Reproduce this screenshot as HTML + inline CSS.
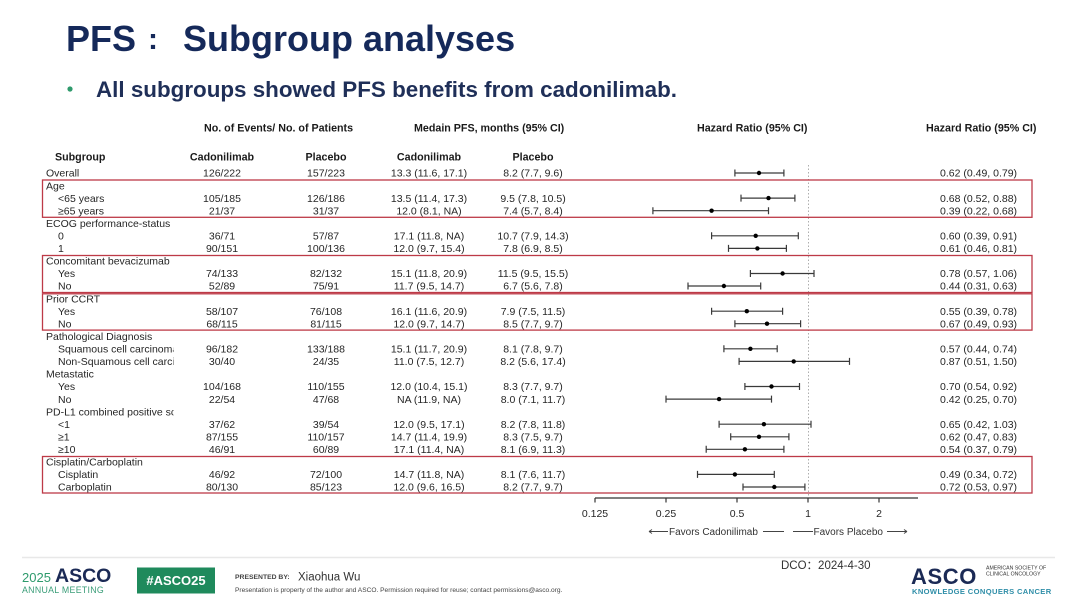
<!DOCTYPE html>
<html><head><meta charset="utf-8"><style>
html,body{margin:0;padding:0;background:#fff;}
svg{display:block;}
text{font-family:"Liberation Sans","Noto Sans CJK SC",sans-serif;}
.t{font-size:10.5px;fill:#262626;}
.h{font-size:10.7px;font-weight:bold;fill:#1a1a1a;}
.c{text-anchor:middle;}
</style></head><body>
<svg width="1080" height="608" viewBox="0 0 1080 608" xmlns="http://www.w3.org/2000/svg">
<rect width="1080" height="608" fill="#fff"/>
<defs><clipPath id="lc"><rect x="40" y="160" width="133.5" height="340"/></clipPath></defs>

<!-- Title -->
<g style="font-size:36px;font-weight:bold;fill:#15295a;">
<text x="66" y="51">PFS</text>
<text x="148" y="49" style="font-size:30px;">:</text>
<text x="183" y="51">Subgroup analyses</text>
</g>
<circle cx="70" cy="89" r="2.6" fill="#2f9a6c"/>
<text x="96" y="97" style="font-size:22.4px;font-weight:bold;fill:#1f2f58;">All subgroups showed PFS benefits from cadonilimab.</text>

<!-- Headers -->
<text class="h" x="204" y="131.5">No. of Events/  No. of Patients</text>
<text class="h" x="414" y="131.5">Medain PFS,  months (95% CI)</text>
<text class="h" x="697" y="131.5">Hazard Ratio (95% CI)</text>
<text class="h" x="926" y="131.5">Hazard Ratio (95% CI)</text>
<text class="h" x="55" y="160.5">Subgroup</text>
<text class="h c" x="222" y="160.5">Cadonilimab</text>
<text class="h c" x="326" y="160.5">Placebo</text>
<text class="h c" x="429" y="160.5">Cadonilimab</text>
<text class="h c" x="533" y="160.5">Placebo</text>

<!-- Row labels -->
<g class="t" clip-path="url(#lc)">
<text x="46" y="176.7">Overall</text>
<text x="46" y="189.3">Age</text>
<text x="58" y="201.8">&lt;65 years</text>
<text x="58" y="214.4">≥65 years</text>
<text x="46" y="226.9">ECOG performance-status</text>
<text x="58" y="239.5">0</text>
<text x="58" y="252.1">1</text>
<text x="46" y="264.6">Concomitant bevacizumab</text>
<text x="58" y="277.2">Yes</text>
<text x="58" y="289.7">No</text>
<text x="46" y="302.3">Prior CCRT</text>
<text x="58" y="314.9">Yes</text>
<text x="58" y="327.4">No</text>
<text x="46" y="340">Pathological Diagnosis</text>
<text x="58" y="352.5">Squamous cell carcinoma</text>
<text x="58" y="365.1">Non-Squamous cell carcinoma</text>
<text x="46" y="377.7">Metastatic</text>
<text x="58" y="390.2">Yes</text>
<text x="58" y="402.8">No</text>
<text x="46" y="415.3">PD-L1 combined positive score</text>
<text x="58" y="427.9">&lt;1</text>
<text x="58" y="440.5">≥1</text>
<text x="58" y="453">≥10</text>
<text x="46" y="465.6">Cisplatin/Carboplatin</text>
<text x="58" y="478.1">Cisplatin</text>
<text x="58" y="490.7">Carboplatin</text>
</g>

<!-- Numeric columns -->
<g class="t c">
<text x="222" y="176.7">126/222</text><text x="326" y="176.7">157/223</text><text x="429" y="176.7">13.3 (11.6, 17.1)</text><text x="533" y="176.7">8.2 (7.7, 9.6)</text>
<text x="222" y="201.8">105/185</text><text x="326" y="201.8">126/186</text><text x="429" y="201.8">13.5 (11.4, 17.3)</text><text x="533" y="201.8">9.5 (7.8, 10.5)</text>
<text x="222" y="214.4">21/37</text><text x="326" y="214.4">31/37</text><text x="429" y="214.4">12.0 (8.1, NA)</text><text x="533" y="214.4">7.4 (5.7, 8.4)</text>
<text x="222" y="239.5">36/71</text><text x="326" y="239.5">57/87</text><text x="429" y="239.5">17.1 (11.8, NA)</text><text x="533" y="239.5">10.7 (7.9, 14.3)</text>
<text x="222" y="252.1">90/151</text><text x="326" y="252.1">100/136</text><text x="429" y="252.1">12.0 (9.7, 15.4)</text><text x="533" y="252.1">7.8 (6.9, 8.5)</text>
<text x="222" y="277.2">74/133</text><text x="326" y="277.2">82/132</text><text x="429" y="277.2">15.1 (11.8, 20.9)</text><text x="533" y="277.2">11.5 (9.5, 15.5)</text>
<text x="222" y="289.7">52/89</text><text x="326" y="289.7">75/91</text><text x="429" y="289.7">11.7 (9.5, 14.7)</text><text x="533" y="289.7">6.7 (5.6, 7.8)</text>
<text x="222" y="314.9">58/107</text><text x="326" y="314.9">76/108</text><text x="429" y="314.9">16.1 (11.6, 20.9)</text><text x="533" y="314.9">7.9 (7.5, 11.5)</text>
<text x="222" y="327.4">68/115</text><text x="326" y="327.4">81/115</text><text x="429" y="327.4">12.0 (9.7, 14.7)</text><text x="533" y="327.4">8.5 (7.7, 9.7)</text>
<text x="222" y="352.5">96/182</text><text x="326" y="352.5">133/188</text><text x="429" y="352.5">15.1 (11.7, 20.9)</text><text x="533" y="352.5">8.1 (7.8, 9.7)</text>
<text x="222" y="365.1">30/40</text><text x="326" y="365.1">24/35</text><text x="429" y="365.1">11.0 (7.5, 12.7)</text><text x="533" y="365.1">8.2 (5.6, 17.4)</text>
<text x="222" y="390.2">104/168</text><text x="326" y="390.2">110/155</text><text x="429" y="390.2">12.0 (10.4, 15.1)</text><text x="533" y="390.2">8.3 (7.7, 9.7)</text>
<text x="222" y="402.8">22/54</text><text x="326" y="402.8">47/68</text><text x="429" y="402.8">NA (11.9, NA)</text><text x="533" y="402.8">8.0 (7.1, 11.7)</text>
<text x="222" y="427.9">37/62</text><text x="326" y="427.9">39/54</text><text x="429" y="427.9">12.0 (9.5, 17.1)</text><text x="533" y="427.9">8.2 (7.8, 11.8)</text>
<text x="222" y="440.5">87/155</text><text x="326" y="440.5">110/157</text><text x="429" y="440.5">14.7 (11.4, 19.9)</text><text x="533" y="440.5">8.3 (7.5, 9.7)</text>
<text x="222" y="453">46/91</text><text x="326" y="453">60/89</text><text x="429" y="453">17.1 (11.4, NA)</text><text x="533" y="453">8.1 (6.9, 11.3)</text>
<text x="222" y="478.1">46/92</text><text x="326" y="478.1">72/100</text><text x="429" y="478.1">14.7 (11.8, NA)</text><text x="533" y="478.1">8.1 (7.6, 11.7)</text>
<text x="222" y="490.7">80/130</text><text x="326" y="490.7">85/123</text><text x="429" y="490.7">12.0 (9.6, 16.5)</text><text x="533" y="490.7">8.2 (7.7, 9.7)</text>
</g>

<!-- HR text right -->
<g class="t">
<text x="940" y="176.7">0.62 (0.49, 0.79)</text>
<text x="940" y="201.8">0.68 (0.52, 0.88)</text>
<text x="940" y="214.4">0.39 (0.22, 0.68)</text>
<text x="940" y="239.5">0.60 (0.39, 0.91)</text>
<text x="940" y="252.1">0.61 (0.46, 0.81)</text>
<text x="940" y="277.2">0.78 (0.57, 1.06)</text>
<text x="940" y="289.7">0.44 (0.31, 0.63)</text>
<text x="940" y="314.9">0.55 (0.39, 0.78)</text>
<text x="940" y="327.4">0.67 (0.49, 0.93)</text>
<text x="940" y="352.5">0.57 (0.44, 0.74)</text>
<text x="940" y="365.1">0.87 (0.51, 1.50)</text>
<text x="940" y="390.2">0.70 (0.54, 0.92)</text>
<text x="940" y="402.8">0.42 (0.25, 0.70)</text>
<text x="940" y="427.9">0.65 (0.42, 1.03)</text>
<text x="940" y="440.5">0.62 (0.47, 0.83)</text>
<text x="940" y="453">0.54 (0.37, 0.79)</text>
<text x="940" y="478.1">0.49 (0.34, 0.72)</text>
<text x="940" y="490.7">0.72 (0.53, 0.97)</text>
</g>

<!-- reference line -->
<line x1="808.5" y1="165" x2="808.5" y2="497" stroke="#9a9a9a" stroke-width="0.8" stroke-dasharray="1.5,2"/>

<!-- forest -->
<g stroke="#3a3a3a" stroke-width="1.2" fill="none">
<path d="M734.9 173H783.9M734.9 169.5V176.5M783.9 169.5V176.5"/>
<path d="M741 198.1H794.9M741 194.6V201.6M794.9 194.6V201.6"/>
<path d="M652.9 210.7H768.5M652.9 207.2V214.2M768.5 207.2V214.2"/>
<path d="M711.6 235.8H798.3M711.6 232.3V239.3M798.3 232.3V239.3"/>
<path d="M728.5 248.4H786.4M728.5 244.9V251.9M786.4 244.9V251.9"/>
<path d="M750.4 273.5H814M750.4 270V277M814 270V277"/>
<path d="M688 286H760.7M688 282.5V289.5M760.7 282.5V289.5"/>
<path d="M711.6 311.2H782.6M711.6 307.7V314.7M782.6 307.7V314.7"/>
<path d="M734.9 323.7H800.6M734.9 320.2V327.2M800.6 320.2V327.2"/>
<path d="M723.9 348.8H777.2M723.9 345.3V352.3M777.2 345.3V352.3"/>
<path d="M739.1 361.4H849.5M739.1 357.9V364.9M849.5 357.9V364.9"/>
<path d="M744.9 386.5H799.5M744.9 383V390M799.5 383V390"/>
<path d="M666 399.1H771.5M666 395.6V402.6M771.5 395.6V402.6"/>
<path d="M719.1 424.2H811M719.1 420.7V427.7M811 420.7V427.7"/>
<path d="M730.7 436.8H788.9M730.7 433.3V440.3M788.9 433.3V440.3"/>
<path d="M706.2 449.3H783.9M706.2 445.8V452.8M783.9 445.8V452.8"/>
<path d="M697.5 474.4H774.3M697.5 470.9V477.9M774.3 470.9V477.9"/>
<path d="M743 487H804.9M743 483.5V490.5M804.9 483.5V490.5"/>
</g>
<g fill="#000">
<circle cx="759" cy="173" r="2.2"/>
<circle cx="768.5" cy="198.1" r="2.2"/>
<circle cx="711.6" cy="210.7" r="2.2"/>
<circle cx="755.7" cy="235.8" r="2.2"/>
<circle cx="757.4" cy="248.4" r="2.2"/>
<circle cx="782.6" cy="273.5" r="2.2"/>
<circle cx="723.9" cy="286" r="2.2"/>
<circle cx="746.8" cy="311.2" r="2.2"/>
<circle cx="767" cy="323.7" r="2.2"/>
<circle cx="750.4" cy="348.8" r="2.2"/>
<circle cx="793.7" cy="361.4" r="2.2"/>
<circle cx="771.5" cy="386.5" r="2.2"/>
<circle cx="719.1" cy="399.1" r="2.2"/>
<circle cx="763.9" cy="424.2" r="2.2"/>
<circle cx="759" cy="436.8" r="2.2"/>
<circle cx="744.9" cy="449.3" r="2.2"/>
<circle cx="734.9" cy="474.4" r="2.2"/>
<circle cx="774.3" cy="487" r="2.2"/>
</g>

<!-- axis -->
<g stroke="#333" stroke-width="1.2">
<line x1="595" y1="498" x2="918" y2="498"/>
<line x1="595" y1="498" x2="595" y2="502.5"/>
<line x1="666" y1="498" x2="666" y2="502.5"/>
<line x1="737" y1="498" x2="737" y2="502.5"/>
<line x1="808" y1="498" x2="808" y2="502.5"/>
<line x1="879" y1="498" x2="879" y2="502.5"/>
</g>
<g class="t c">
<text x="595" y="517">0.125</text>
<text x="666" y="517">0.25</text>
<text x="737" y="517">0.5</text>
<text x="808" y="517">1</text>
<text x="879" y="517">2</text>
</g>
<g stroke="#444" stroke-width="0.9" fill="none">
<path d="M649 531.5H668M649 531.5l3 -2M649 531.5l3 2"/>
<path d="M763 531.5H784"/>
<path d="M793 531.5H813"/>
<path d="M887 531.5H907M907 531.5l-3 -2M907 531.5l-3 2"/>
</g>
<text x="669" y="535" style="font-size:10px;fill:#333;">Favors Cadonilimab</text>
<text x="813.5" y="535" style="font-size:10px;fill:#333;">Favors Placebo</text>

<!-- red boxes -->
<g fill="none" stroke="#bd3a47" stroke-width="1.3">
<rect x="42.5" y="180" width="989.5" height="37.3"/>
<rect x="42.5" y="255.5" width="989.5" height="37"/>
<rect x="42.5" y="293.8" width="989.5" height="36.3"/>
<rect x="42.5" y="456.5" width="989.5" height="36.5"/>
</g>

<!-- footer -->
<line x1="22" y1="557.5" x2="1055" y2="557.5" stroke="#e8e8e8" stroke-width="1.5"/>
<text x="22" y="582" style="font-size:13px;fill:#2e9a6c;">2025</text>
<text x="55" y="582" style="font-size:19.5px;font-weight:bold;fill:#1b2a55;">ASCO</text>
<text x="22" y="593" style="font-size:8.8px;fill:#3a9d78;letter-spacing:0.3px;">ANNUAL MEETING</text>
<rect x="137" y="567.5" width="78" height="26" fill="#1f8a5c"/>
<text x="176" y="585" text-anchor="middle" style="font-size:13px;font-weight:bold;fill:#fff;">#ASCO25</text>
<text x="235" y="579" style="font-size:6.8px;font-weight:bold;fill:#444;">PRESENTED BY:</text>
<text x="298" y="580.5" style="font-size:11.5px;fill:#333;">Xiaohua Wu</text>
<text x="235" y="592" style="font-size:6.6px;fill:#444;">Presentation is property of the author and ASCO. Permission required for reuse; contact permissions@asco.org.</text>
<text x="781" y="569" style="font-size:11.5px;fill:#333;">DCO：2024-4-30</text>
<text x="911" y="584" style="font-size:22px;font-weight:bold;fill:#1b2a55;letter-spacing:0.6px;">ASCO</text>
<text x="986" y="569.5" style="font-size:5.2px;fill:#333;">AMERICAN SOCIETY OF</text>
<text x="986" y="575.5" style="font-size:5.2px;fill:#333;">CLINICAL ONCOLOGY</text>
<text x="912" y="594" style="font-size:7.6px;font-weight:bold;fill:#2f8ea8;letter-spacing:0.35px;">KNOWLEDGE CONQUERS CANCER</text>
</svg>
</body></html>
